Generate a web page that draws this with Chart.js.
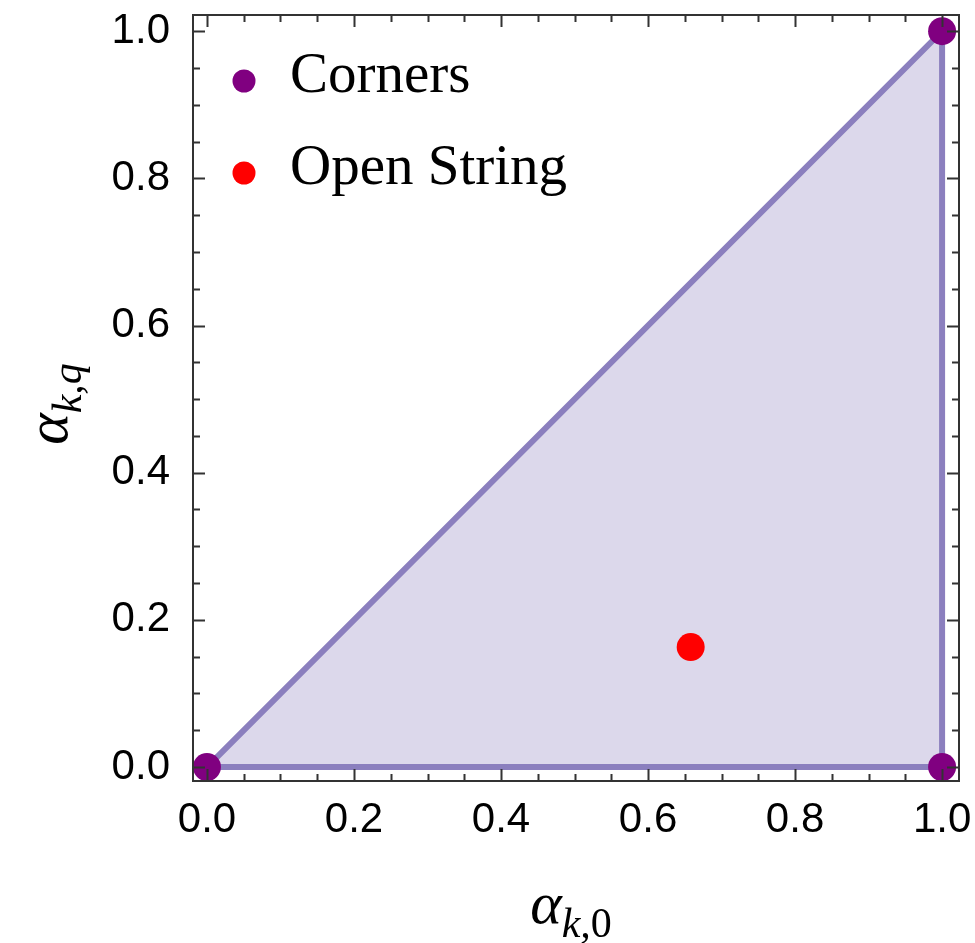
<!DOCTYPE html>
<html lang="en">
<head>
    <meta charset="UTF-8">
    <title>Region plot</title>
    <style>
        html, body {
            margin: 0;
            padding: 0;
            background-color: white;
            overflow: hidden;
        }
        .chart-box {
            width: 975px;
            height: 943px;
        }
    </style>
    <script src="https://cdn.jsdelivr.net/npm/chart.js@4.4.1/dist/chart.umd.min.js"></script>
    <script>
        // region boundary (closed triangle)
        const regionX = [0, 1, 1, 0];
        const regionY = [0, 1, 0, 0];
        // upper edge of the region, filled down to zero
        const fillX = [0, 1];
        const fillY = [0, 1];
        // corner points
        const cornerX = [0, 1, 1];
        const cornerY = [0, 1, 0];
        // open string point
        const openX = [0.658];
        const openY = [0.163];
        // axis ticks
        const majorTicks = [0, 0.2, 0.4, 0.6, 0.8, 1.0];
        const minorTicks = [0.05, 0.1, 0.15, 0.25, 0.3, 0.35, 0.45, 0.5, 0.55, 0.65, 0.7, 0.75, 0.85, 0.9, 0.95];
        const legendLabels = ['Corners', 'Open String'];

        const toPoints = (xs, ys) => xs.map((x, i) => ({ x: x, y: ys[i] }));

        const framePlugin = {
            id: 'frame',
            afterDraw(chart) {
                const ctx = chart.ctx;
                const a = chart.chartArea;
                const xs = chart.scales.x, ys = chart.scales.y;
                ctx.save();
                ctx.strokeStyle = '#333';
                ctx.lineWidth = 2;
                ctx.strokeRect(a.left, a.top, a.right - a.left, a.bottom - a.top);
                const tick = (v, len) => {
                    const px = Math.round(xs.getPixelForValue(v)) + 0.5;
                    const py = Math.round(ys.getPixelForValue(v)) + 0.5;
                    ctx.beginPath();
                    ctx.moveTo(px, a.bottom); ctx.lineTo(px, a.bottom - len);
                    ctx.moveTo(px, a.top); ctx.lineTo(px, a.top + len);
                    ctx.moveTo(a.left, py); ctx.lineTo(a.left + len, py);
                    ctx.moveTo(a.right, py); ctx.lineTo(a.right - len, py);
                    ctx.stroke();
                };
                majorTicks.forEach(v => tick(v, 12));
                minorTicks.forEach(v => tick(v, 7));

                // legend inside the plot
                const colors = chart.data.datasets.slice(0, 2).map(d => d.backgroundColor);
                ctx.font = '57px "Liberation Serif", "Times New Roman", serif';
                ctx.textAlign = 'left';
                ctx.textBaseline = 'alphabetic';
                legendLabels.forEach((t, i) => {
                    const cy = 81 + i * 92;
                    ctx.fillStyle = colors[i];
                    ctx.beginPath();
                    ctx.arc(244, cy, 11.5, 0, Math.PI * 2);
                    ctx.fill();
                    ctx.fillStyle = '#000';
                    ctx.fillText(t, 290, cy + 11);
                });

                // axis titles with subscripts
                const drawSub = (parts) => {
                    let w = 0;
                    parts.forEach(p => { ctx.font = p[1]; w += ctx.measureText(p[0]).width; });
                    let x = -w / 2;
                    parts.forEach(p => {
                        ctx.font = p[1];
                        ctx.fillText(p[0], x, p[2]);
                        x += ctx.measureText(p[0]).width;
                    });
                };
                const big = 'italic 60px "Liberation Serif", serif';
                const subI = 'italic 42px "Liberation Serif", serif';
                const subR = '42px "Liberation Serif", serif';
                ctx.fillStyle = '#000';
                ctx.save();
                ctx.translate(571, 923);
                drawSub([['\u03b1', big, 0], ['k,', subI, 14], ['0', subR, 14]]);
                ctx.restore();
                ctx.save();
                ctx.translate(67, 404);
                ctx.rotate(-Math.PI / 2);
                drawSub([['\u03b1', big, 0], ['k,q', subI, 14]]);
                ctx.restore();
                ctx.restore();
            }
        };

        const noPad = s => {
            s.paddingLeft = 0;
            s.paddingRight = 0;
            s.paddingTop = 0;
            s.paddingBottom = 0;
        };

        window.onload = function () {
            const ctx = document.getElementById('myChart').getContext('2d');
            new Chart(ctx, {
                type: 'scatter',
                data: {
                    datasets: [
                        {
                            label: legendLabels[0],
                            data: toPoints(cornerX, cornerY),
                            backgroundColor: '#800080',
                            borderWidth: 0,
                            pointRadius: 14,
                            order: 1
                        },
                        {
                            label: legendLabels[1],
                            data: toPoints(openX, openY),
                            backgroundColor: '#ff0000',
                            borderWidth: 0,
                            pointRadius: 14,
                            order: 1
                        },
                        {
                            label: 'Region edge',
                            data: toPoints(regionX, regionY),
                            showLine: true,
                            fill: false,
                            borderColor: 'rgb(139, 127, 190)',
                            borderWidth: 6,
                            pointRadius: 0,
                            tension: 0,
                            order: 2
                        },
                        {
                            label: 'Region',
                            data: toPoints(fillX, fillY),
                            showLine: true,
                            fill: 'origin',
                            backgroundColor: 'rgb(220, 216, 235)',
                            borderWidth: 0,
                            pointRadius: 0,
                            tension: 0,
                            order: 3
                        }
                    ]
                },
                options: {
                    responsive: false,
                    animation: false,
                    layout: { padding: { top: 15, right: 16, left: 0, bottom: 0 } },
                    scales: {
                        x: {
                            type: 'linear',
                            min: -0.019,
                            max: 1.023,
                            grid: { display: false },
                            border: { display: false },
                            afterBuildTicks: s => { s.ticks = majorTicks.map(v => ({ value: v })); },
                            afterFit: s => { s.height = 162; noPad(s); },
                            ticks: {
                                padding: 6,
                                color: '#000',
                                font: { family: '"Liberation Sans", Arial, sans-serif', size: 42 },
                                callback: v => v.toFixed(1)
                            }
                        },
                        y: {
                            type: 'linear',
                            min: -0.019,
                            max: 1.022,
                            grid: { display: false },
                            border: { display: false },
                            afterBuildTicks: s => { s.ticks = majorTicks.map(v => ({ value: v })); },
                            afterFit: s => { s.width = 193; noPad(s); },
                            ticks: {
                                padding: 15,
                                color: '#000',
                                font: { family: '"Liberation Sans", Arial, sans-serif', size: 42 },
                                callback: v => v.toFixed(1)
                            }
                        }
                    },
                    plugins: {
                        legend: { display: false },
                        tooltip: { enabled: false }
                    }
                },
                plugins: [framePlugin]
            });
        };
    </script>
</head>
<body>
    <div class="chart-box">
        <canvas id="myChart" width="975" height="943"></canvas>
    </div>
</body>
</html>
